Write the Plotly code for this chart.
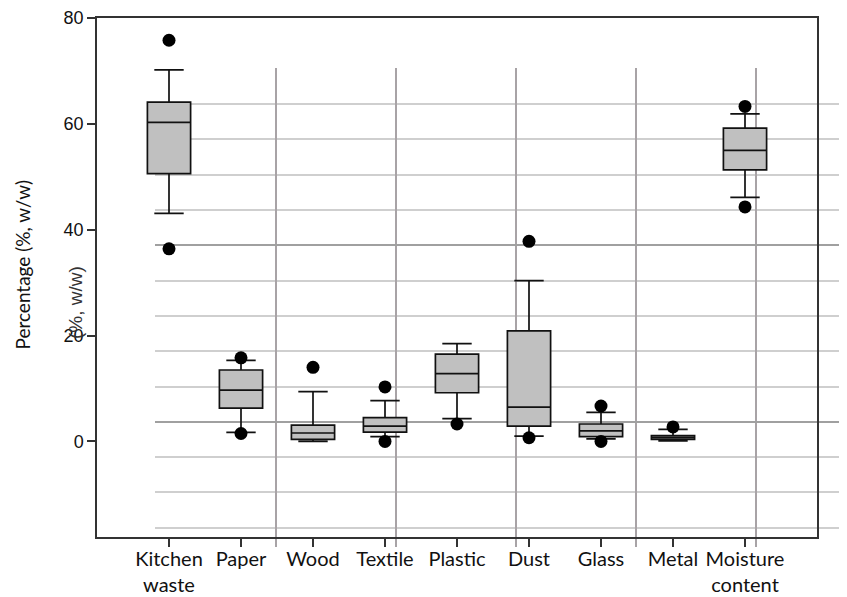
import plotly.graph_objects as go

# ---- data ----
categories = ["Kitchen<br>waste", "Paper", "Wood", "Textile", "Plastic",
              "Dust", "Glass", "Metal", "Moisture<br>content"]
positions = [0, 1, 2, 3, 4, 5, 6, 7, 8]
lower_whisker = [43.1, 1.7, 0.0, 0.9, 4.3, 1.0, 0.5, 0.1, 46.1]
q1 = [50.6, 6.3, 0.4, 1.75, 9.2, 2.9, 0.9, 0.4, 51.3]
median = [60.3, 9.7, 1.6, 2.9, 12.8, 6.5, 2.0, 0.75, 55.0]
q3 = [64.1, 13.5, 3.1, 4.5, 16.5, 20.9, 3.3, 1.1, 59.2]
upper_whisker = [70.2, 15.3, 9.4, 7.7, 18.5, 30.4, 5.5, 2.3, 61.9]

outlier_x = [0, 0, 1, 1, 2, 3, 3, 4, 5, 5, 6, 6, 7, 8, 8]
outlier_y = [75.8, 36.4, 15.8, 1.5, 14.0, 10.3, 0.0, 3.3, 37.8, 0.7,
             6.7, 0.0, 2.75, 63.3, 44.3]

y_ticks = [0, 20, 40, 60, 80]

fig = go.Figure()

# empty trace so the background-grid subplot (x, y) is created
fig.add_trace(go.Scatter(x=[], y=[], xaxis="x", yaxis="y",
                         showlegend=False, hoverinfo="skip"))

# Main box plot on x2/y2 (drawn above the background grid subplot)
fig.add_trace(go.Box(
    x=positions, q1=q1, median=median, q3=q3,
    lowerfence=lower_whisker, upperfence=upper_whisker,
    xaxis="x2", yaxis="y2",
    fillcolor="#c0c0c0",
    line=dict(color="#111111", width=1.7),
    width=0.6, whiskerwidth=0.68,
    boxpoints=False, showlegend=False, hoverinfo="skip",
))
fig.add_trace(go.Scatter(
    x=outlier_x, y=outlier_y, mode="markers",
    xaxis="x2", yaxis="y2",
    marker=dict(color="black", size=13),
    showlegend=False, hoverinfo="skip",
))

# the page body has an 8px default margin, so the figure is 8px smaller
fig.update_layout(
    width=839, height=589,
    margin=dict(l=89, r=0, t=10, b=50),
    paper_bgcolor="white",
    plot_bgcolor="rgba(0,0,0,0)",
    showlegend=False,
    # background grid (stray gridlines seen in the reference)
    xaxis=dict(
        domain=[58 / 750, 1], anchor="y",
        range=[-1.008, 4.758],
        tickmode="array", tickvals=[0, 1, 2, 3, 4],
        showgrid=True, gridcolor="#a8a3a6", gridwidth=1.6,
        showticklabels=False, ticks="", zeroline=False, showline=False,
        automargin=False,
    ),
    yaxis=dict(
        domain=[0, 479 / 529], anchor="x",
        range=[-0.5467, 13.023],
        tickmode="array", tickvals=[3, 8],
        showgrid=True, gridcolor="#a0a0a0", gridwidth=1.6,
        minor=dict(tickmode="array",
                   tickvals=[0, 1, 2, 4, 5, 6, 7, 9, 10, 11, 12],
                   showgrid=True, gridcolor="#cfcfcf", gridwidth=1.8,
                   ticks=""),
        showticklabels=False, ticks="", zeroline=False, showline=False,
        automargin=False,
    ),
    # main axes
    xaxis2=dict(
        domain=[0, 720 / 750], anchor="y2",
        range=[-1, 9],
        tickmode="array", tickvals=positions, ticktext=categories,
        tickangle=0, ticklabelstandoff=-5,
        ticks="outside", ticklen=8, tickwidth=1.5, tickcolor="#333333",
        showline=True, mirror=True, linecolor="#333333", linewidth=1.5,
        showgrid=False, zeroline=False, automargin=False,
        tickfont=dict(family="Lato", size=20, color="#111111"),
    ),
    yaxis2=dict(
        domain=[10 / 529, 1], anchor="x2",
        range=[-18.05, 80],
        tickmode="array", tickvals=y_ticks,
        ticks="outside", ticklen=8, tickwidth=1.5, tickcolor="#333333",
        showline=True, mirror=True, linecolor="#333333", linewidth=1.5,
        showgrid=False, zeroline=False, automargin=False,
        tickfont=dict(family="Liberation Sans", size=18, color="#111111"),
    ),
    annotations=[
        dict(text="Percentage (%, w/w)", textangle=-90,
             xref="paper", yref="paper",
             x=(21.5 - 97) / 750, y=(547 - 265) / 529,
             xanchor="center", yanchor="middle", showarrow=False,
             font=dict(family="Lato", size=19, color="#111111")),
        dict(text="(%, w/w)", textangle=-90,
             xref="paper", yref="paper",
             x=(75 - 97) / 750, y=(547 - 303) / 529,
             xanchor="center", yanchor="middle", showarrow=False,
             font=dict(family="Liberation Sans", size=19, color="#333333")),
    ],
)

fig.write_html("out.html")
